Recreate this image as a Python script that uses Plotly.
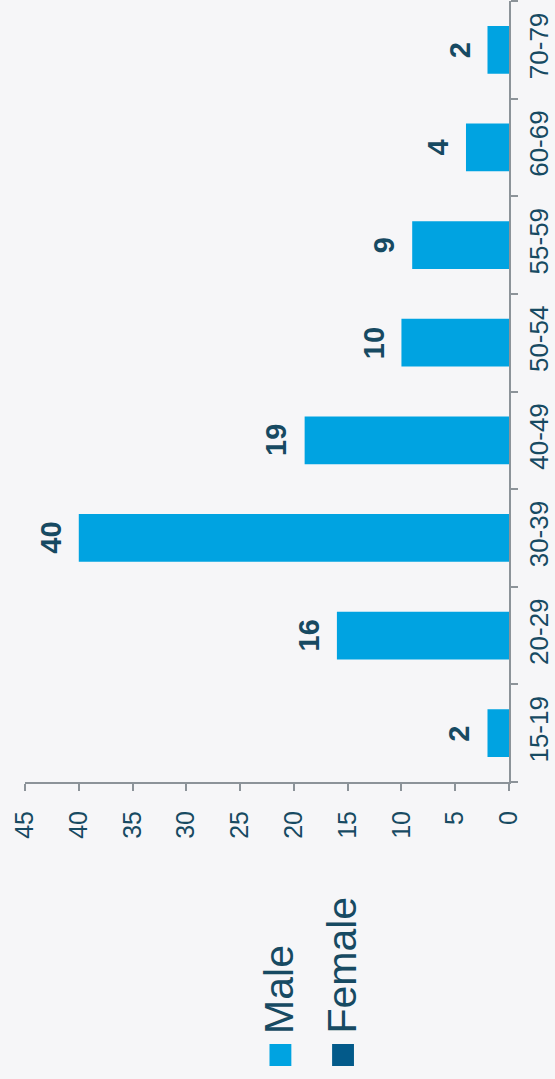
import plotly.graph_objects as go

categories = ["15-19", "20-29", "30-39", "40-49", "50-54", "55-59", "60-69", "70-79"]
male_values = [2, 16, 40, 19, 10, 9, 4, 2]
series_names = ["Male", "Female"]
series_colors = ["#00a3e1", "#035a8a"]
value_ticks = [0, 5, 10, 15, 20, 25, 30, 35, 40, 45]

TEXT = "#174a62"
AXIS = "#8c9399"
FONT = "Liberation Sans, Arial, sans-serif"

W, H = 555, 1079
L, R, T, B = 25, 43, 1, 297
PW, PH = W - L - R, H - T - B

def px(x):
    return (x - L) / PW

def py(y):
    return (H - B - y) / PH

fig = go.Figure()
fig.add_trace(go.Bar(
    y=categories, x=male_values, orientation="h", name=series_names[0],
    marker=dict(color=series_colors[0], line=dict(width=0)),
    showlegend=False, hoverinfo="x+y",
))

# value labels (rotated), anchored at each bar's end
for cat, v in zip(categories, male_values):
    fig.add_annotation(x=v, y=cat, xref="x", yref="y", text=str(v),
                       textangle=-90, showarrow=False, xanchor="right",
                       xshift=-10, font=dict(family=FONT, size=29, color=TEXT, weight="bold"))

fig.update_layout(
    width=W, height=H,
    margin=dict(l=L, r=R, t=T, b=B),
    paper_bgcolor="#f6f6f8", plot_bgcolor="#f6f6f8",
    bargap=0.51,
    font=dict(family=FONT, color=TEXT),
    showlegend=False,
    xaxis=dict(
        range=[45, 0], tickvals=value_ticks, ticktext=[str(v) for v in value_ticks],
        tickangle=-90, ticks="outside", ticklen=7, tickwidth=2, tickcolor=AXIS,
        showline=True, linecolor=AXIS, linewidth=2, showgrid=False, zeroline=False,
        tickfont=dict(size=25, color=TEXT, family=FONT), ticklabelstandoff=10,
    ),
    yaxis=dict(
        side="right", tickangle=-90, ticks="outside", ticklen=7, tickwidth=2,
        tickcolor=AXIS, tickson="boundaries", showline=True, linecolor=AXIS,
        linewidth=2, showgrid=False, zeroline=False,
        tickfont=dict(size=26, color=TEXT, family=FONT), ticklabelstandoff=6,
    ),
)

# manual rotated legend
legend_x = [282, 345]
for name, color, cx in zip(series_names, series_colors, legend_x):
    fig.add_shape(type="rect", xref="paper", yref="paper",
                  x0=px(cx - 11), x1=px(cx + 11), y0=py(1066), y1=py(1044),
                  fillcolor=color, line=dict(width=0))
    fig.add_annotation(xref="paper", yref="paper", x=px(cx - 2), y=py(1036),
                       xanchor="center", yanchor="bottom", text=name, textangle=-90,
                       showarrow=False, font=dict(size=41, color=TEXT, family=FONT))

fig.write_html("out.html", config={"displayModeBar": False},
               post_script="document.body.style.margin='0';document.body.style.overflow='hidden';")
